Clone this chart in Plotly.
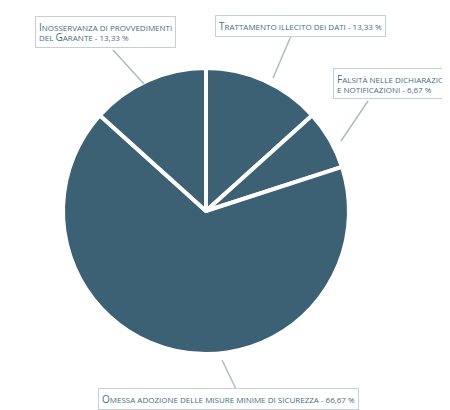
import plotly.graph_objects as go

# Data
labels = ['Trattamento illecito dei dati', 'Falsità nelle dichiarazioni e notificazioni',
          'Omessa adozione delle misure minime di sicurezza', 'Inosservanza di provvedimenti del Garante']
values = [13.33, 6.67, 66.67, 13.33]

W, H = 450, 410
blue = '#3d6174'
txt = '#3f6f86'


def sc(s):
    # fake small caps: first letter of each word larger
    out = []
    for w in s.split(' '):
        if w and w[0].isupper():
            out.append("<span style='font-size:10px'>" + w[0] + "</span>" + w[1:].upper())
        else:
            out.append(w.upper())
    return ' '.join(out)


fig = go.Figure(go.Pie(
    labels=labels, values=values, sort=False, direction='clockwise', rotation=0,
    marker=dict(colors=[blue] * 4, line=dict(color='white', width=4)),
    textinfo='none', hoverinfo='label+percent', showlegend=False,
    domain=dict(x=[55 / W, 341 / W], y=[1 - 346 / H, 1 - 60 / H])))

# (text, x center, y center, leader line from (x0,y0) to (x1,y1)) in pixels
boxes = [
    (sc('Inosservanza di provvedimenti') + '<br>' + sc('del Garante') + ' - 13,33 %', 97, 24, (136, 76), (105, 42)),
    (sc('Trattamento illecito dei dati') + ' - 13,33 %', 292, 18, (265, 70), (283, 28)),
    (sc('Falsità nelle dichiarazioni') + '<br>' + sc('e notificazioni') + ' - 6,67 %', 386, 76, (333, 133), (360, 93)),
    (sc('Omessa adozione delle misure minime di sicurezza') + ' - 66,67 %', 220, 391, (214, 352), (228, 381)),
]
ann = []
shapes = []
for t, x, y, p0, p1 in boxes:
    ann.append(dict(text=t, x=x / W, y=1 - y / H, xref='paper', yref='paper', showarrow=False,
                    xanchor='center', yanchor='middle',
                    font=dict(family='Open Sans', size=8, color=txt), align='left',
                    bordercolor='#c3d0d7', borderwidth=1, borderpad=3, bgcolor='white'))
    shapes.append(dict(type='line', xref='paper', yref='paper',
                       x0=p0[0] / W, y0=1 - p0[1] / H, x1=p1[0] / W, y1=1 - p1[1] / H,
                       line=dict(color='#a9bcc6', width=1.5)))

fig.update_layout(width=W, height=H, margin=dict(l=0, r=0, t=0, b=0),
                  paper_bgcolor='white', annotations=ann, shapes=shapes)
fig.write_html('out.html')
